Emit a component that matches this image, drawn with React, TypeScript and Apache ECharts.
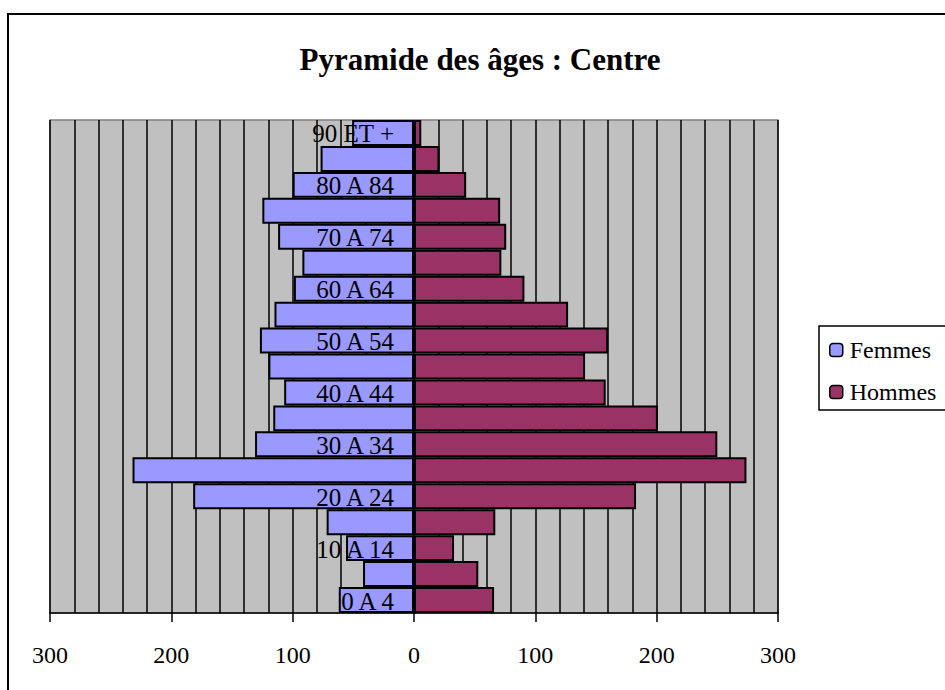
import React, { useEffect, useRef } from "react";
import * as echarts from "echarts";

const categories = [
  "0 A 4", "5 A 9", "10 A 14", "15 A 19", "20 A 24", "25 A 29", "30 A 34",
  "35 A 39", "40 A 44", "45 A 49", "50 A 54", "55 A 59", "60 A 64", "65 A 69",
  "70 A 74", "75 A 79", "80 A 84", "85 A 89", "90 ET +",
];
const femmes = [62, 42, 56, 72, 182, 232, 131, 116, 107, 120, 127, 115, 99, 92, 112, 125, 100, 77, 51];
const hommes = [66, 53, 33, 67, 183, 274, 250, 201, 158, 141, 160, 127, 91, 72, 76, 71, 43, 21, 6];
const seriesNames = ["Femmes", "Hommes"];
const titleText = "Pyramide des âges : Centre";

const FONT = "'Liberation Serif', 'Times New Roman', serif";

export default function App() {
  const ref = useRef<HTMLDivElement>(null);
  useEffect(() => {
    if (!ref.current) return;
    const chart = echarts.init(ref.current, null, { renderer: "svg" });
    chart.setOption({
      animation: false,
      backgroundColor: "#ffffff",
      textStyle: { fontFamily: FONT },
      title: {
        text: titleText,
        left: 480,
        textAlign: "center",
        top: 44,
        padding: 0,
        textStyle: { fontFamily: FONT, fontSize: 31, fontWeight: "bold", color: "#000" },
      },
      graphic: [
        {
          type: "polyline",
          shape: { points: [[8, 700], [8, 14], [960, 14]] },
          style: { fill: "none", stroke: "#000", lineWidth: 2 },
          silent: true,
          z: 100,
        },
        {
          type: "polyline",
          shape: { points: [[960, 326], [819, 326], [819, 410], [960, 410]] },
          style: { fill: "#fff", stroke: "#000", lineWidth: 1.5 },
          silent: true,
          z: 0,
        },
      ],
      legend: {
        orient: "vertical",
        left: 819,
        top: 326,
        padding: [12, 10, 6, 10],
        itemGap: 18,
        itemWidth: 13,
        itemHeight: 13,
        data: seriesNames,
        z: 5,
        itemStyle: { borderColor: "#000", borderWidth: 1.5 },
        textStyle: { fontFamily: FONT, fontSize: 24, color: "#000", padding: [0, 0, 0, 2] },
      },
      grid: {
        left: 50,
        right: 167,
        top: 120,
        bottom: 77,
        containLabel: false,
        outerBoundsMode: "none",
        show: true,
        backgroundColor: "#C0C0C0",
        borderColor: "#808080",
        borderWidth: 1.5,
      },
      xAxis: {
        type: "value",
        min: -300,
        max: 300,
        interval: 100,
        axisLine: { show: true, onZero: false, lineStyle: { color: "#000", width: 1.5 } },
        axisTick: { show: true, length: 9, lineStyle: { color: "#000", width: 1.5 } },
        axisLabel: {
          margin: 30,
          fontFamily: FONT,
          fontSize: 24,
          color: "#000",
          formatter: (v: number) => String(Math.abs(v)),
        },
        splitLine: { show: true, lineStyle: { color: "#000", width: 1.5 } },
        minorTick: { show: false, splitNumber: 5 },
        minorSplitLine: { show: true, lineStyle: { color: "#000", width: 1.5 } },
      },
      yAxis: {
        type: "category",
        data: categories,
        axisLine: { show: false, onZero: false },
        axisTick: { show: false },
        axisLabel: { show: false },
        splitLine: { show: false },
      },
      series: [
        {
          name: seriesNames[0],
          type: "bar",
          data: femmes.map((v) => -v),
          barWidth: "100%",
          barGap: "-100%",
          itemStyle: { color: "#9999FF", borderColor: "#000", borderWidth: 2 },
        },
        {
          name: seriesNames[1],
          type: "bar",
          data: hommes,
          barWidth: "100%",
          barGap: "-100%",
          itemStyle: { color: "#993366", borderColor: "#000", borderWidth: 2 },
        },
        {
          name: "labels",
          type: "bar",
          data: categories.map(() => 0),
          barWidth: "100%",
          barGap: "-100%",
          z: 10,
          silent: true,
          itemStyle: { color: "transparent", borderWidth: 0 },
          label: {
            show: true,
            position: "left",
            distance: 20,
            fontFamily: FONT,
            fontSize: 25,
            color: "#000",
            offset: [0, 1],
            formatter: (p: any) => (p.dataIndex % 2 === 0 ? categories[p.dataIndex] : ""),
          },
        },
      ],
    });
    return () => chart.dispose();
  }, []);
  return (
    <div
      ref={ref}
      style={{ position: "absolute", left: 0, top: 0, width: 945, height: 690 }}
    />
  );
}
